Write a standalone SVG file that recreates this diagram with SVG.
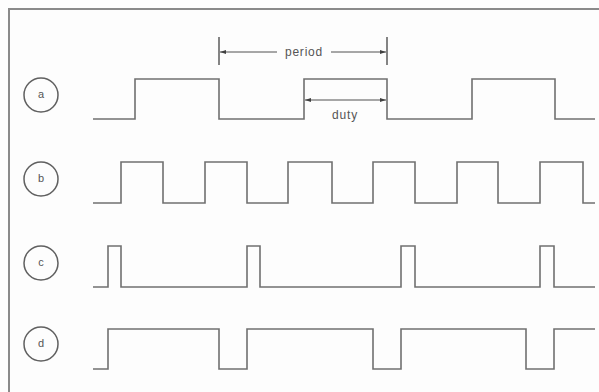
<svg xmlns="http://www.w3.org/2000/svg" width="599" height="392" viewBox="0 0 599 392">
<style>
.frame{fill:none;stroke:#8a8a8a;stroke-width:2}
.wave{fill:none;stroke:#707070;stroke-width:1.6}
.dim{fill:none;stroke:#505050;stroke-width:1}
.tick{stroke:#505050;stroke-width:1.4}
.lbl{fill:none;stroke:#606060;stroke-width:1.5}
.t{font-family:"Liberation Sans",Arial,sans-serif;font-size:12px;letter-spacing:0.8px;fill:#555;text-anchor:middle}
.ct{font-family:"Liberation Sans",Arial,sans-serif;font-size:11px;fill:#555;text-anchor:middle}
</style>
<defs>
<marker id="ah" viewBox="0 0 6 6" refX="6" refY="3" markerWidth="6" markerHeight="6" orient="auto-start-reverse" markerUnits="userSpaceOnUse">
<path d="M0,1 L6,3 L0,5 Z" fill="#404040"/>
</marker>
</defs>
<rect width="599" height="392" fill="#fdfdfd"/>
<path class="frame" d="M9,392 V9 H599"/>
<g id="node-a">
<circle class="lbl" cx="41" cy="95" r="17"/>
<text class="ct" x="41" y="98">a</text>
</g>
<g id="node-b">
<circle class="lbl" cx="41" cy="179" r="17"/>
<text class="ct" x="41" y="182">b</text>
</g>
<g id="node-c">
<circle class="lbl" cx="41" cy="263" r="17"/>
<text class="ct" x="41" y="266">c</text>
</g>
<g id="node-d">
<circle class="lbl" cx="41" cy="344" r="17"/>
<text class="ct" x="41" y="347">d</text>
</g>
<g id="connectors">
<path class="wave" d="M93,119 H135 V79 H219 V119 H304 V79 H387 V119 H472 V79 H555 V119 H595"/>
<path class="wave" d="M93,203 H121 V162 H163 V203 H205 V162 H247 V203 H288 V162 H332 V203 H373 V162 H415 V203 H457 V162 H498 V203 H540 V162 H583 V203 H595"/>
<path class="wave" d="M93,287 H108 V246 H121 V287 H247 V246 H260 V287 H401 V246 H415 V287 H540 V246 H554 V287 H595"/>
<path class="wave" d="M93,369 H108 V329 H219 V369 H247 V329 H373 V369 H401 V329 H526 V369 H554 V329 H595"/>
<line class="tick" x1="219" y1="37" x2="219" y2="65"/>
<line class="tick" x1="387" y1="37" x2="387" y2="65"/>
<line class="dim" x1="220" y1="52" x2="277" y2="52" marker-start="url(#ah)"/>
<line class="dim" x1="331" y1="52" x2="386" y2="52" marker-end="url(#ah)"/>
<line class="dim" x1="305" y1="100" x2="386" y2="100" marker-start="url(#ah)" marker-end="url(#ah)"/>
</g>
<text class="t" x="304" y="56">period</text>
<text class="t" x="345" y="119">duty</text>
</svg>
